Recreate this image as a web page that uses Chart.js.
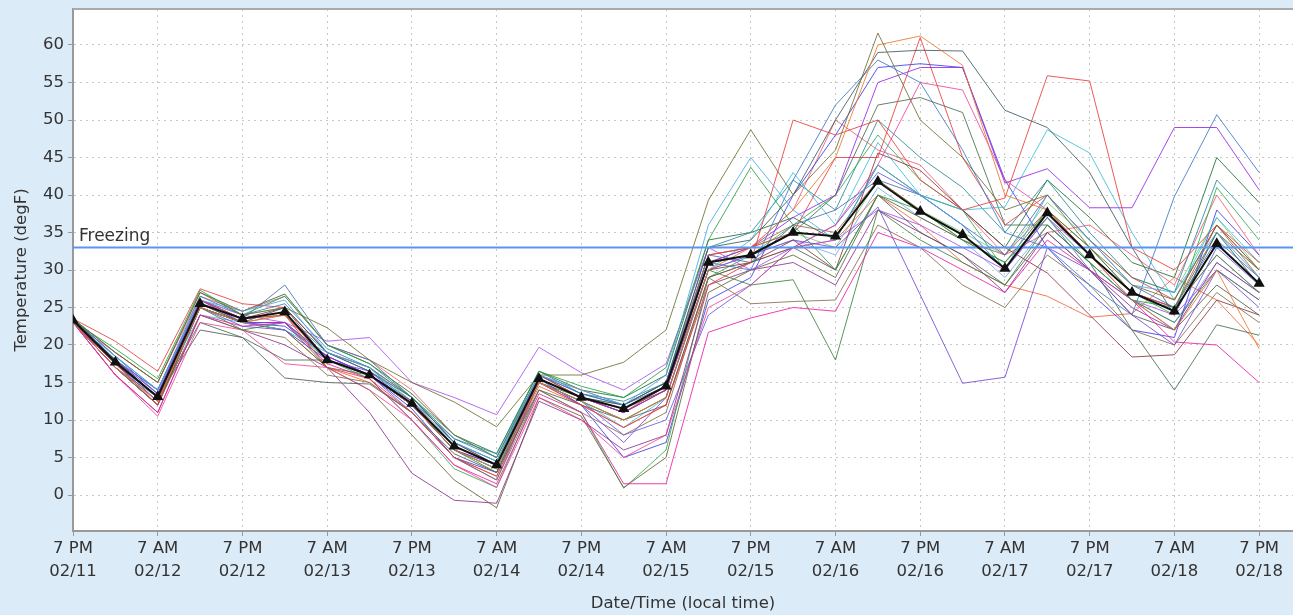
<!DOCTYPE html>
<html>
<head>
<meta charset="utf-8">
<script src="https://cdn.jsdelivr.net/npm/chart.js@4/dist/chart.umd.min.js"></script>
<style>
  body { margin: 0; background: #dcebf8; overflow: hidden; }
  #wrap { width: 1293px; height: 615px; }
</style>
</head>
<body>
<div id="wrap"><canvas id="myChart" width="1293" height="615"></canvas></div>
<script>
// forecast hours after 7 PM 02/11, every 6 hours
var hours = [0, 6, 12, 18, 24, 30, 36, 42, 48, 54, 60, 66, 72, 78, 84, 90, 96, 102, 108, 114, 120, 126, 132, 138, 144, 150, 156, 162, 168];
var tickTimes = ['7 PM', '7 AM', '7 PM', '7 AM', '7 PM', '7 AM', '7 PM', '7 AM', '7 PM', '7 AM', '7 PM', '7 AM', '7 PM', '7 AM', '7 PM'];
var tickDates = ['02/11', '02/12', '02/12', '02/13', '02/13', '02/14', '02/14', '02/15', '02/15', '02/16', '02/16', '02/17', '02/17', '02/18', '02/18'];
var tempTicks = [0, 5, 10, 15, 20, 25, 30, 35, 40, 45, 50, 55, 60];
var freezing = 33;

var meanTemp = [23.3, 17.7, 13.1, 25.5, 23.5, 24.4, 18, 16, 12.2, 6.5, 4, 15.5, 13, 11.5, 14.5, 31, 32, 35, 34.5, 41.8, 37.8, 34.7, 30.2, 37.6, 32, 27, 24.5, 33.5, 28.2];

var member01 = [23.5, 19, 15, 27, 24, 25, 22.3, 18, 15, 12.4, 9.1, 16, 16, 17.7, 22, 39.3, 48.7, 40, 46, 61.6, 50, 45, 38, 40, 33, 28, 26, 36, 30];
var member02 = [23, 18.5, 14, 26, 24.5, 26, 19, 17, 12, 7, 4.5, 16, 14, 12, 16, 36, 45, 38, 34, 44, 40, 36, 30, 40, 34, 28, 27, 35, 29];
var member03 = [23.2, 19.5, 15.5, 27.3, 24, 26.5, 20, 17.5, 13, 8, 5, 16.5, 14.5, 13, 17, 34, 43.7, 36, 30, 40, 38, 34, 31, 37, 31, 26, 25, 32, 27];
var member04 = [23, 17, 12.5, 25, 23, 24, 18, 16, 12, 6, 3.5, 15, 12.5, 10, 13, 30, 33, 38, 45, 60, 61.2, 57.3, 40, 38, 32, 26, 22, 30, 19.5];
var member05 = [23.5, 18, 13, 25.5, 23, 25, 19, 16.5, 13, 7, 4, 15.5, 13, 12, 15, 33, 34, 40, 50, 59, 59.3, 59.2, 51.3, 49, 43, 33, 24, 35, 28];
var member06 = [23, 17.5, 12, 26, 23.5, 24, 17, 15.5, 11, 5, 2.5, 15, 12, 9, 12, 28, 31, 50, 48, 50, 42, 38, 39.6, 55.9, 55.2, 33, 30, 36, 30];
var member07 = [23, 17, 12.5, 25, 22.5, 22, 18, 16.5, 12, 6, 4, 15, 12, 7, 13, 30, 32, 34, 33, 38.4, 26.7, 14.9, 15.7, 33, 30, 24, 20, 30, 25];
var member08 = [23, 18, 13.5, 26, 23, 23, 18.5, 16, 12.5, 6.5, 4, 15.5, 13, 11, 14, 31, 33, 37, 40, 55, 57, 57, 41.6, 43.5, 38.3, 38.3, 49, 49, 40.7];
var member09 = [23.5, 18.5, 14, 26.5, 24, 25.5, 19.5, 17, 13, 7.5, 5, 16, 13.5, 12, 15, 31, 30, 42, 52, 58, 55, 46, 35, 33, 28, 24, 39.8, 50.7, 43];
var member10 = [23, 16, 11, 24, 22.5, 23, 17.5, 15.5, 10, 4, 1.5, 13.5, 11, 1.5, 1.5, 21.7, 23.6, 25, 24.5, 35, 33, 30, 27, 34, 30, 26, 20.4, 20, 15];
var member11 = [23, 18, 13, 25, 22, 23, 17, 16, 12, 6, 3, 15, 12.5, 10, 13, 30, 28, 28.7, 18, 38, 34, 31, 28, 36, 31, 26, 23, 30, 26];
var member12 = [23, 17, 12, 24, 22, 21, 16, 15, 11, 5, 2, 14, 11, 8, 11, 29, 25.5, 25.8, 26, 36, 33, 28, 25, 32, 28, 22, 20, 27, 23];
var member13 = [23, 18, 13, 22, 21, 15.6, 15, 14.8, 11, 5.5, 3, 14, 12, 10, 12, 29, 31, 33, 30, 40, 35, 32, 28, 35, 30, 24, 22, 28, 24];
var member14 = [23.5, 18.5, 13.5, 26, 23.5, 28, 20, 18, 13, 7, 4.5, 16, 13.5, 12, 14.5, 32, 31, 36, 38, 42, 40, 36, 32, 40, 34, 28, 25, 34, 29];
var member15 = [23, 16, 10.5, 23, 22, 17.5, 17, 14, 10, 4, 1, 13, 10, 5, 8, 25, 28, 33, 36, 44, 55, 54, 42, 38, 32, 27, 25, 32, 27];
var member16 = [23.5, 20.5, 16.5, 27.5, 25.5, 25, 19, 17, 13, 7, 4, 16, 13, 11, 14, 32, 33, 35, 45, 45, 61, 45, 36, 40, 34, 29, 26, 36, 31];
var member17 = [23, 18, 13.5, 24, 23, 22, 19, 17, 12, 6, 3.5, 15, 12.5, 9, 13, 30, 34, 43, 36, 47, 40, 38, 38.4, 48.7, 45.6, 35, 26, 37, 31];
var member18 = [23, 17.5, 13, 25.5, 23.5, 25, 18, 16, 12, 6, 4, 15.5, 13, 11.5, 14, 30, 31, 34, 30, 45.6, 43.3, 38, 33, 29.6, 24, 18.4, 18.7, 26, 24];
var member19 = [23, 18, 14, 26, 24, 23, 20.5, 21, 15, 13, 10.7, 19.7, 16.3, 14, 17.5, 33, 30, 33, 34, 38, 36, 33, 30, 37, 32, 26, 24, 30, 26];
var member20 = [23, 16, 11, 24, 22, 20, 17, 11, 2.9, -0.7, -1.1, 12.5, 10, 6, 8, 28, 30, 31, 28, 38, 35, 32, 27, 35, 30, 25, 22, 31, 27];
var member21 = [23, 17, 12, 25, 23, 22, 17, 14, 8, 2, -1.7, 13, 10.5, 1, 5, 27, 30, 32, 29, 40, 37, 34, 31, 38, 33, 27, 25, 35, 30];
var member22 = [23, 17, 12, 25, 23, 23, 18, 15.5, 10, 3.5, 1, 14, 11, 0.9, 6, 29, 32, 36, 40, 48, 42, 38, 30, 38, 33, 27, 24, 41, 34];
var member23 = [23, 17.5, 12.5, 25, 23, 22.5, 18.5, 16, 11.5, 5, 3, 15.5, 12, 5, 7, 26, 29, 40, 48, 57, 57.5, 57, 42, 33, 27, 22, 21, 38, 32];
var member24 = [23.5, 18, 14, 26, 23.5, 24, 19, 16.5, 12.5, 7.5, 5.5, 16.5, 13.5, 12.5, 15, 33, 35, 42, 38, 50, 45, 41, 35, 42, 35, 29, 27, 42, 36];
var member25 = [23, 17, 13, 23, 21, 18, 18, 16, 12, 6, 3.5, 15, 13, 11, 14, 31, 32, 35, 40, 52, 53, 51, 36, 36, 31, 22, 14, 22.7, 21.3];
var member26 = [23, 19, 15, 26.5, 24.5, 26.5, 20, 18, 14, 8, 5, 16, 14, 12, 15, 32, 33, 38, 50, 46, 44, 38, 32, 35, 36, 32, 28, 40, 32];
var member27 = [23, 17, 12, 25, 23, 23, 18.5, 16, 11, 5, 2, 15, 12.5, 8, 10, 24, 28, 33, 36, 43, 40, 36, 30, 37, 30, 26, 22, 33, 28];
var member28 = [23, 18, 13, 25.5, 23, 24, 18, 16, 12, 6.5, 4, 16, 13, 11, 14.5, 31, 33, 36, 35, 42, 38, 34, 32, 38, 32, 27, 25, 36, 29];
var member29 = [23, 17, 12, 25, 23, 22, 17, 15, 11, 5, 2.5, 14.5, 12, 9, 12, 29, 31, 33, 34, 40, 36, 31, 28, 26.5, 23.7, 24.2, 29, 26, 20];
var member30 = [23, 18, 14, 26, 24, 25, 19, 17, 12.5, 7, 4.5, 16, 13, 12, 15, 32, 33, 35, 33, 42, 38, 35, 32, 39, 34, 29, 27, 37, 30];
var member31 = [23.5, 19, 15, 27, 24.5, 26.8, 20, 17.5, 13.5, 8, 5.5, 16.5, 14, 13, 16, 34, 35, 37, 34, 44, 40, 38, 33, 42, 37, 31, 29, 45, 39];
var member32 = [23, 17.5, 13, 25, 23, 22, 18, 16, 12, 6, 3.5, 15, 12.5, 10, 13, 30, 32, 34, 32, 41, 37, 34, 29, 36, 31, 26, 23, 31, 27];

var members = [member01, member02, member03, member04, member05, member06, member07, member08,
  member09, member10, member11, member12, member13, member14, member15, member16,
  member17, member18, member19, member20, member21, member22, member23, member24,
  member25, member26, member27, member28, member29, member30, member31, member32];

var colors = ['rgba(110,110,50,0.85)', 'rgba(70,170,230,0.85)', 'rgba(40,160,70,0.85)', 'rgba(235,120,40,0.85)',
  'rgba(60,90,100,0.85)', 'rgba(235,60,60,0.85)', 'rgba(120,70,210,0.85)', 'rgba(150,40,230,0.85)',
  'rgba(60,120,200,0.85)', 'rgba(235,30,160,0.85)', 'rgba(60,130,60,0.85)', 'rgba(130,110,80,0.85)',
  'rgba(80,90,90,0.85)', 'rgba(70,110,170,0.85)', 'rgba(235,60,150,0.8)', 'rgba(230,50,50,0.8)',
  'rgba(60,190,220,0.85)', 'rgba(140,50,60,0.85)', 'rgba(170,80,240,0.85)', 'rgba(140,50,140,0.85)',
  'rgba(100,100,50,0.85)', 'rgba(50,170,80,0.85)', 'rgba(60,60,230,0.85)', 'rgba(40,140,150,0.85)',
  'rgba(70,110,80,0.85)', 'rgba(240,80,110,0.8)', 'rgba(90,80,230,0.8)', 'rgba(160,90,60,0.8)',
  'rgba(240,90,50,0.8)', 'rgba(110,200,110,0.8)', 'rgba(30,110,50,0.85)', 'rgba(120,170,230,0.85)'];

function toPoints(values) {
  return values.map(function (v, i) { return { x: hours[i], y: v }; });
}

var datasets = [{
  label: 'Mean',
  data: toPoints(meanTemp),
  borderColor: '#111',
  backgroundColor: '#111',
  borderWidth: 2,
  pointStyle: 'triangle',
  pointRadius: 4.5,
  tension: 0
}, {
  label: 'Freezing',
  data: [{ x: 0, y: freezing }, { x: 180, y: freezing }],
  borderColor: 'rgb(90,150,240)',
  borderWidth: 2,
  pointRadius: 0
}];
members.forEach(function (m, i) {
  datasets.push({
    label: 'Member ' + (i + 1),
    data: toPoints(m),
    borderColor: colors[i],
    borderWidth: 1,
    pointRadius: 0,
    tension: 0
  });
});

var plotDecor = {
  id: 'plotDecor',
  beforeDraw: function (chart) {
    var a = chart.chartArea, c = chart.ctx;
    c.save();
    c.fillStyle = '#ffffff';
    c.fillRect(a.left, a.top, a.right - a.left, a.bottom - a.top);
    c.restore();
  },
  afterDatasetsDraw: function (chart) {
    var a = chart.chartArea, c = chart.ctx;
    c.save();
    c.strokeStyle = '#aaaaaa';
    c.lineWidth = 2;
    c.beginPath();
    c.moveTo(a.left, a.top);
    c.lineTo(a.right, a.top);
    c.stroke();
    c.fillStyle = '#333';
    c.font = '17px "DejaVu Sans"';
    c.textBaseline = 'bottom';
    c.fillText('Freezing', chart.scales.x.getPixelForValue(0) + 6, chart.scales.y.getPixelForValue(freezing) - 2);
    c.restore();
  }
};

var tickFont = { family: 'DejaVu Sans', size: 16.5, lineHeight: 1.4 };

var ctx = document.getElementById('myChart').getContext('2d');
var myChart = new Chart(ctx, {
  type: 'line',
  data: { datasets: datasets },
  options: {
    responsive: false,
    animation: false,
    layout: { autoPadding: false, padding: { top: 9, left: 0, right: 0, bottom: 0 } },
    plugins: { legend: { display: false }, tooltip: { enabled: false } },
    scales: {
      x: {
        type: 'linear',
        min: 0,
        max: 172.8,
        afterBuildTicks: function (axis) {
          axis.ticks = hours.filter(function (h) { return h % 12 === 0; }).map(function (h) { return { value: h }; });
        },
        afterFit: function (axis) {
          axis.height = 84;
          axis.paddingLeft = 0;
          axis.paddingRight = 0;
        },
        ticks: {
          autoSkip: false,
          maxRotation: 0,
          color: '#333',
          font: tickFont,
          padding: 1,
          callback: function (v) {
            var k = Math.round(v / 12);
            return [tickTimes[k], tickDates[k]];
          }
        },
        grid: { color: '#c8c8c8', tickColor: '#999', tickLength: 5, tickBorderDash: [] },
        border: { color: '#999', width: 2, dash: [2, 4] },
        title: {
          display: true,
          text: 'Date/Time (local time)',
          color: '#333',
          font: { family: 'DejaVu Sans', size: 16.5 },
          padding: { top: 0, bottom: 1 }
        }
      },
      y: {
        min: -4.8,
        max: 64.8,
        afterBuildTicks: function (axis) {
          axis.ticks = tempTicks.map(function (t) { return { value: t }; });
        },
        afterFit: function (axis) {
          axis.width = 73;
          axis.paddingTop = 0;
          axis.paddingBottom = 0;
        },
        ticks: {
          color: '#333',
          font: { family: 'DejaVu Sans', size: 16.5 },
          padding: 4
        },
        grid: { color: '#c8c8c8', tickColor: '#999', tickLength: 5, tickBorderDash: [] },
        border: { color: '#999', width: 2, dash: [2, 4] },
        title: {
          display: true,
          text: 'Temperature (degF)',
          color: '#333',
          font: { family: 'DejaVu Sans', size: 16.5 },
          padding: { top: 12, bottom: 4 }
        }
      }
    }
  },
  plugins: [plotDecor]
});
</script>
</body>
</html>
